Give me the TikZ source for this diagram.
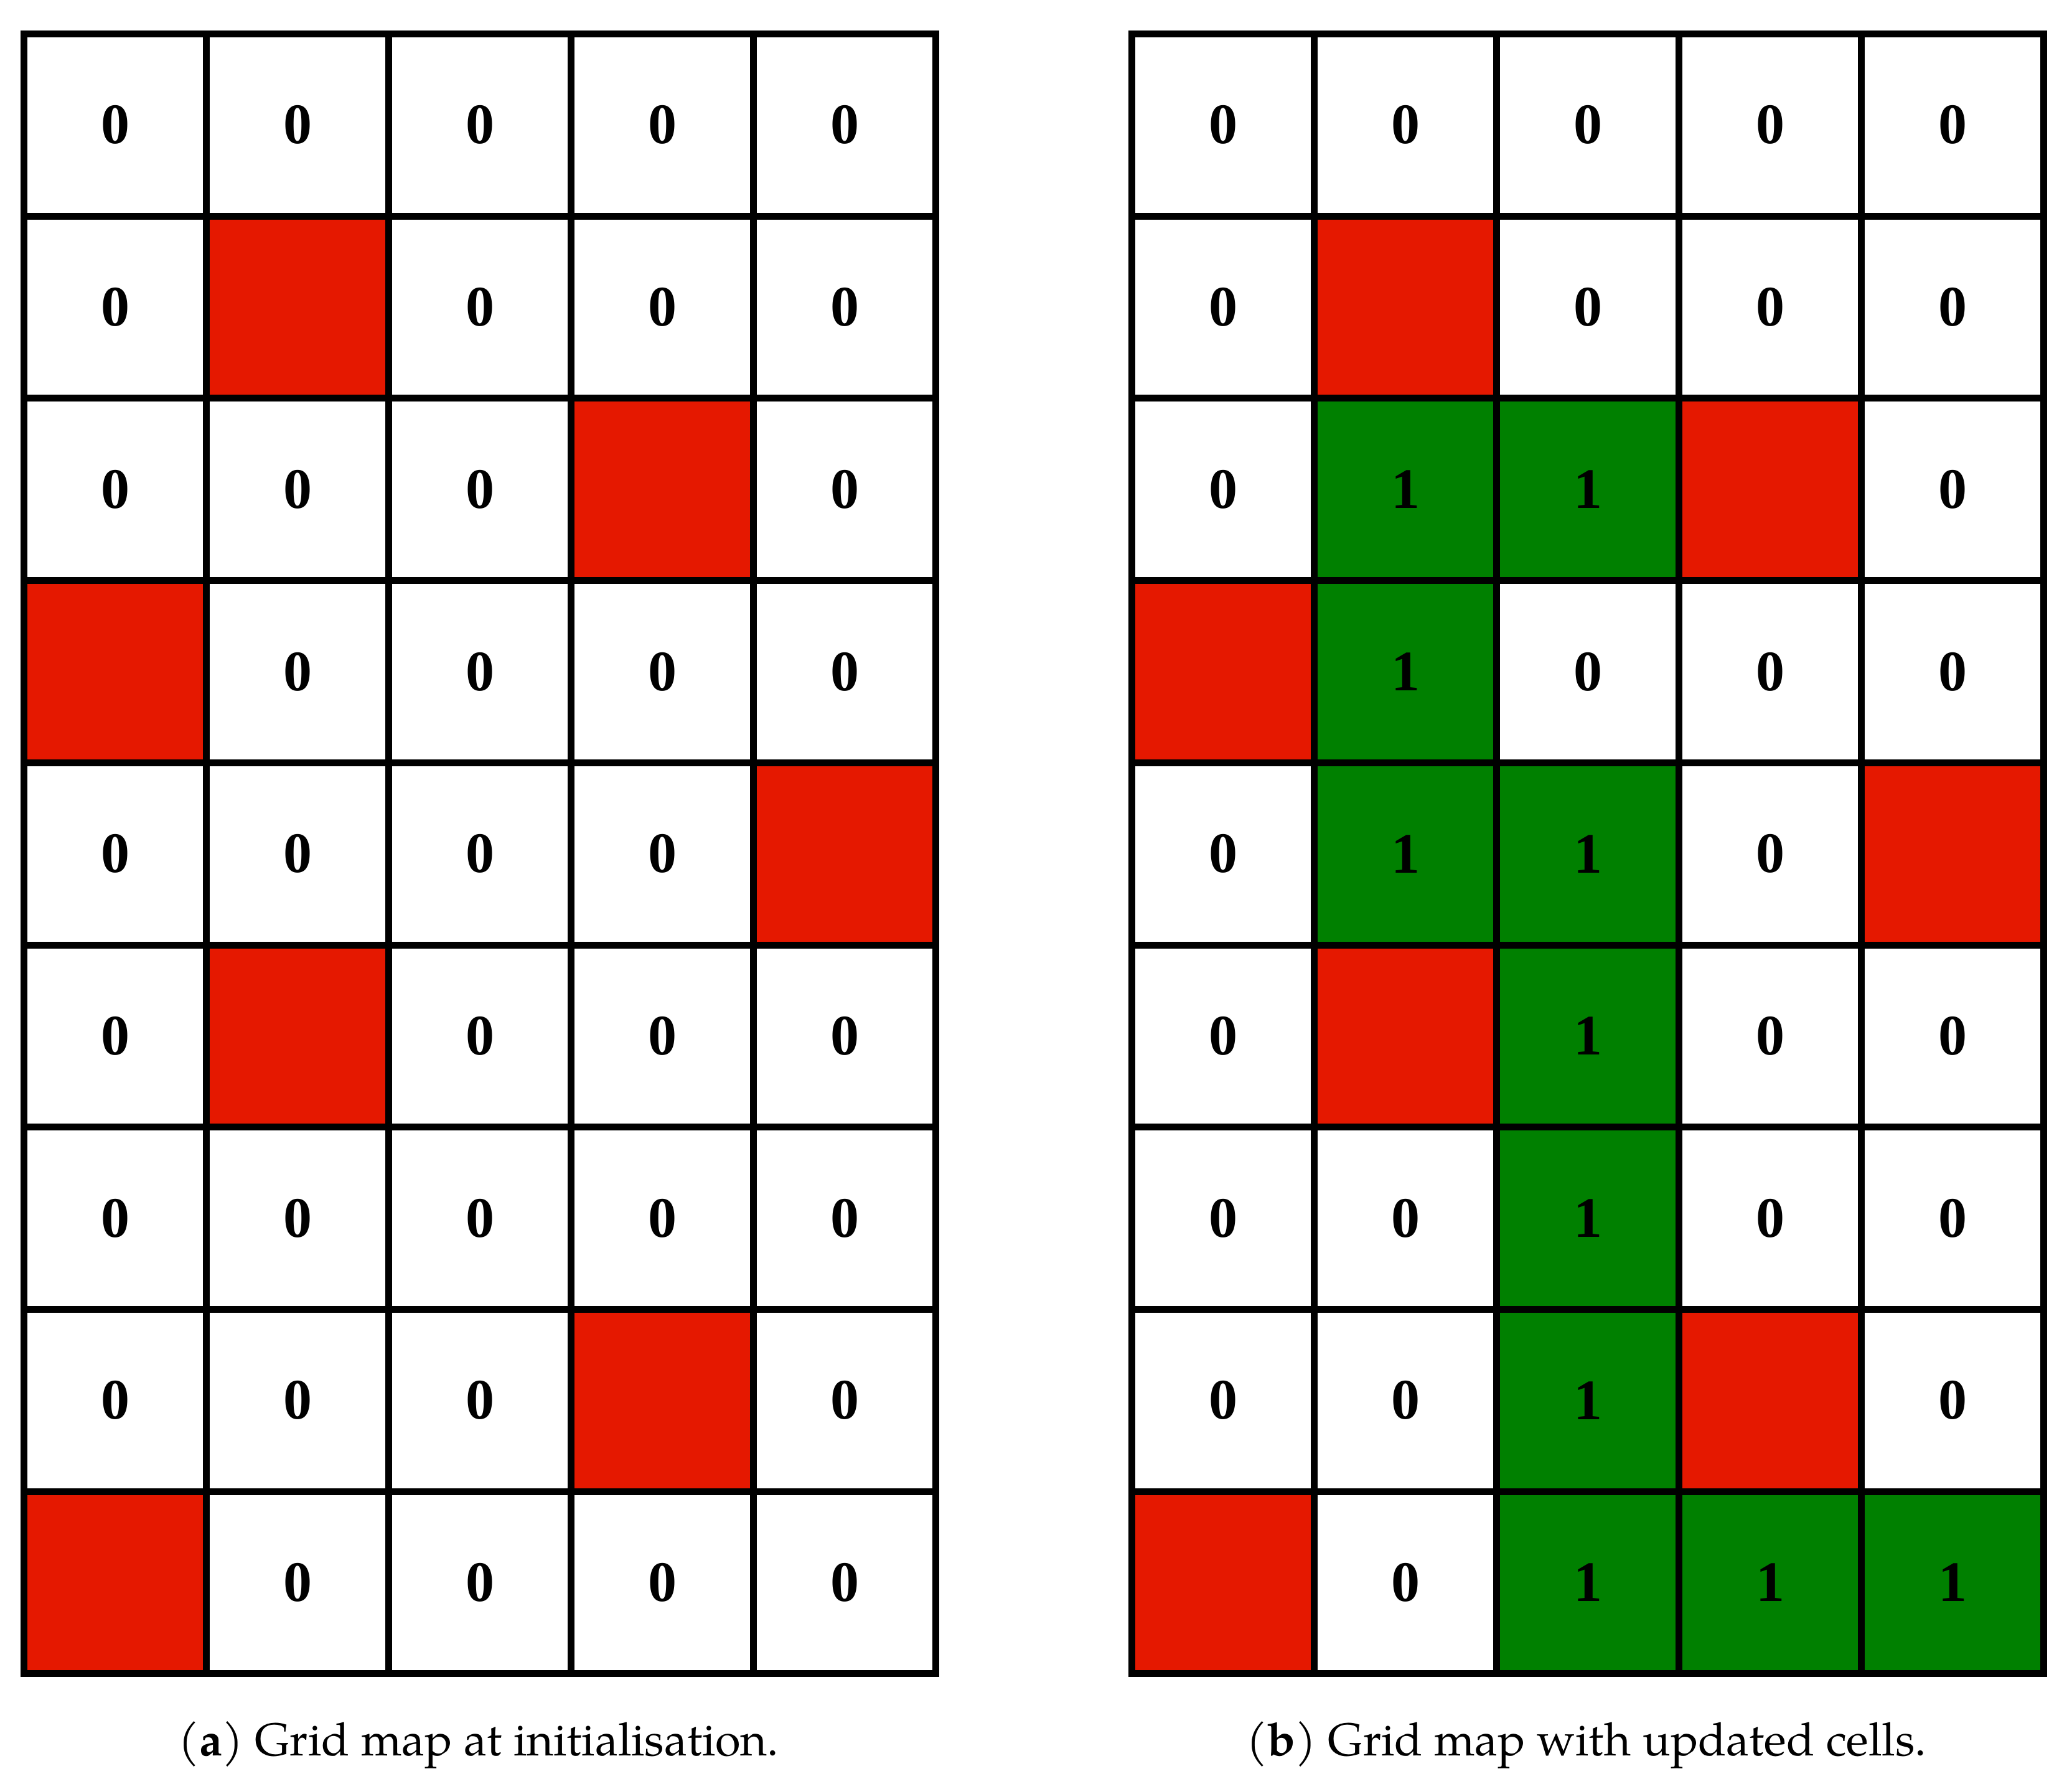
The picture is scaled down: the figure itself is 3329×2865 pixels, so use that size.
\documentclass[tikz,border=0pt]{standalone}
\usepackage{fontspec}
\newfontfamily\digitfont{Liberation Serif}
\newfontfamily\capfont{texgyrepagella}[Extension=.otf, UprightFont=*-regular, BoldFont=*-bold]
\definecolor{cellred}{RGB}{229,24,0}
\definecolor{cellgreen}{RGB}{0,128,0}
\tikzset{
  cellbox/.style={rectangle, draw=black, line width=2.2pt, minimum width=58.6pt, minimum height=58.54pt,
    inner sep=0pt, outer sep=0pt, font=\digitfont\bfseries\fontsize{18.4pt}{18.4pt}\selectfont},
  cR/.style={fill=cellred, node contents={}},
  c0/.style={fill=white, node contents={0}},
  c1/.style={fill=cellgreen, node contents={1}},
  captext/.style={anchor=base, inner sep=0pt, font=\capfont\fontsize{14.8pt}{18pt}\selectfont}
}
\begin{document}
\begin{tikzpicture}[x=0.2pt, y=-0.2pt]
\useasboundingbox (0,0) rectangle (3329,2865);
% grid (a)
\foreach \rowlist [count=\r] in {{0,0,0,0,0},{0,R,0,0,0},{0,0,0,R,0},{R,0,0,0,0},{0,0,0,0,R},{0,R,0,0,0},{0,0,0,0,0},{0,0,0,R,0},{R,0,0,0,0}}{
  \foreach \v [count=\c] in \rowlist {
    \node (a-\r-\c) at ({38.5+(\c-0.5)*293}, {54.5+(\r-0.5)*292.7}) [cellbox, c\v];
  }
}
% grid (b)
\foreach \rowlist [count=\r] in {{0,0,0,0,0},{0,R,0,0,0},{0,1,1,R,0},{R,1,0,0,0},{0,1,1,0,R},{0,R,1,0,0},{0,0,1,0,0},{0,0,1,R,0},{R,0,1,1,1}}{
  \foreach \v [count=\c] in \rowlist {
    \node (b-\r-\c) at ({1818.5+(\c-0.5)*293}, {54.5+(\r-0.5)*292.7}) [cellbox, c\v];
  }
}
\node[captext] (capa) at (769,2820) {(\textbf{a}) Grid map at initialisation.};
\node[captext] (capb) at (2549,2820) {(\textbf{b}) Grid map with updated cells.};
\end{tikzpicture}
\end{document}
